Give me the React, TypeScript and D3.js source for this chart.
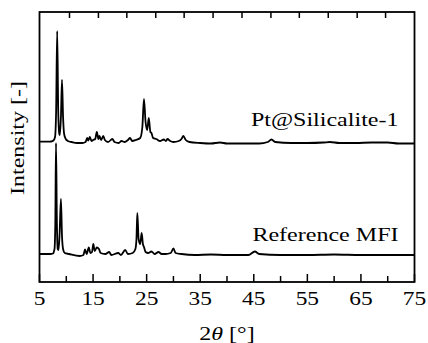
import React, { useRef, useEffect } from 'react';
import * as d3 from 'd3';

// 2theta [deg], intensity above each trace's own baseline (a.u.)
const ptSilicalite: [number, number][] = [
  [5, 0.3], [6.5, 0.3], [7.2, 0.5], [7.6, 1.5], [7.9, 5], [8.1, 30], [8.3, 111], [8.5, 30], [8.7, 8],
  [8.8, 7], [9.0, 25], [9.2, 62], [9.4, 25], [9.6, 8], [9.9, 3], [10.3, 1], [11, 0], [12, -1], [13, -1],
  [13.6, 0], [13.9, 4], [14.1, 1.5], [14.4, 5], [14.7, 1], [15.0, 2], [15.4, 3], [15.7, 10], [16.0, 3],
  [16.2, 6], [16.5, 2], [16.9, 6], [17.2, 2], [17.8, 0], [18.6, 3], [19.0, 0], [19.8, -1], [20.3, 1],
  [20.9, 0], [21.5, 2], [21.9, 4], [22.3, 1], [23.0, 2], [23.8, 4], [24.2, 15], [24.5, 43], [24.8, 20],
  [25.1, 12], [25.4, 24], [25.7, 10], [25.9, 9], [26.2, 4], [26.8, 3], [27.5, 1], [28.2, 2.5], [28.6, 1],
  [28.9, 3], [29.4, 1], [30.0, 0], [31.0, 1], [31.5, 3], [31.85, 6], [32.3, 2], [33, 0], [35, -1],
  [37, -1.5], [38.7, -0.5], [40, -1.5], [43, -1.5], [46, -1.5], [47.6, 0], [48.3, 2.5], [49, 0],
  [52, -1], [55, -1], [58, -0.5], [59.2, 0], [61, -1], [64, -1], [67, -0.5], [70, -0.5], [72, -1.5],
  [75, -1.5],
];

const referenceMFI: [number, number][] = [
  [5, 0], [7.0, 0], [7.5, 0.5], [7.8, 5], [7.95, 30], [8.08, 111], [8.25, 30], [8.4, 5], [8.55, 4],
  [8.75, 20], [9.0, 55], [9.2, 18], [9.4, 5], [9.7, 1], [10.5, 0], [12.5, -2], [13.2, -1], [13.5, 4.5],
  [13.8, 0], [14.2, 6.5], [14.5, 1], [14.8, 2], [15.05, 10], [15.3, 3], [15.7, 6.5], [16.1, 5],
  [16.4, 1], [17.3, 0], [18.0, 2], [18.4, -1], [19.7, 1], [20.2, -1], [21.0, 4], [21.5, 0], [22.4, 1],
  [22.9, 5], [23.1, 15], [23.26, 41], [23.5, 15], [23.8, 10], [24.07, 21], [24.3, 10], [24.5, 7],
  [24.8, 2], [25.3, 1], [25.9, 2.5], [26.5, 0], [27.2, 2], [27.8, 0], [28.5, 0], [29.5, 1], [30.0, 5.5],
  [30.4, 1], [31.5, 0], [34, -1], [37, -0.5], [40, -1], [44, -1], [45.2, 2.5], [46, 0], [50, -1],
  [55, -1], [60, -0.5], [65, -1], [70, -1], [75, -1],
];

const traceLabels = ['Pt@Silicalite-1', 'Reference MFI'];
const traceOffsets = [140, 28];
const majorTicks = [5, 15, 25, 35, 45, 55, 65, 75];
const minorTicks = [10, 20, 30, 40, 50, 60, 70];
const topTicks = [10.6, 16.0, 21.3, 26.7, 32.0, 37.4, 42.8, 48.2, 53.5, 58.9, 64.3, 69.6];

const FONT = '"Liberation Serif", "Times New Roman", serif';
const SX = 1.3; // glyphs in the original are drawn wide

const XrdChart: React.FC<{ width?: number; height?: number }> = ({ width = 428, height = 343 }) => {
  const svgRef = useRef<SVGSVGElement>(null);

  useEffect(() => {
    if (!svgRef.current) return;
    const svg = d3.select(svgRef.current);
    svg.selectAll('*').remove();

    const left = 39.5, right = 414.5, top = 12, bottom = 282;

    const x = d3.scaleLinear().domain([5, 75]).range([left, right]);
    const y = d3.scaleLinear().domain([0, 270]).range([bottom, top]);

    // traces
    const series = [ptSilicalite, referenceMFI];
    series.forEach((data, i) => {
      const line = d3.line<[number, number]>()
        .x(d => x(d[0]))
        .y(d => y(d[1] + traceOffsets[i]))
        .curve(d3.curveMonotoneX);
      svg.append('path')
        .datum(data)
        .attr('d', line)
        .attr('fill', 'none')
        .attr('stroke', '#000')
        .attr('stroke-width', 1.8)
        .attr('stroke-linejoin', 'round');
    });

    // frame
    svg.append('rect')
      .attr('x', left).attr('y', top)
      .attr('width', right - left).attr('height', bottom - top)
      .attr('fill', 'none').attr('stroke', '#000').attr('stroke-width', 1.8);

    // bottom ticks (inward)
    svg.append('g').selectAll('line.major').data(majorTicks).enter().append('line')
      .attr('x1', d => x(d)).attr('x2', d => x(d))
      .attr('y1', bottom).attr('y2', bottom - 8)
      .attr('stroke', '#000').attr('stroke-width', 1.5);
    svg.append('g').selectAll('line.minor').data(minorTicks).enter().append('line')
      .attr('x1', d => x(d)).attr('x2', d => x(d))
      .attr('y1', bottom).attr('y2', bottom - 6)
      .attr('stroke', '#000').attr('stroke-width', 1.5);
    // top ticks
    svg.append('g').selectAll('line.top').data(topTicks).enter().append('line')
      .attr('x1', d => x(d)).attr('x2', d => x(d))
      .attr('y1', top).attr('y2', top + 6)
      .attr('stroke', '#000').attr('stroke-width', 1.5);

    // tick labels
    svg.append('g').selectAll('text').data(majorTicks).enter().append('text')
      .attr('transform', d => `translate(${x(d)},305) scale(${SX},1)`)
      .attr('text-anchor', 'middle')
      .attr('font-family', FONT).attr('font-size', 18)
      .text(d => d);

    // trace labels
    traceLabels.forEach((label, i) => {
      svg.append('text')
        .attr('transform', `translate(398.5,${i === 0 ? 125.5 : 241}) scale(${SX},1)`)
        .attr('text-anchor', 'end')
        .attr('font-family', FONT).attr('font-size', 18.5)
        .text(label);
    });

    // x axis title
    const xt = svg.append('text')
      .attr('transform', `translate(${(left + right) / 2},340) scale(${SX},1)`)
      .attr('text-anchor', 'middle')
      .attr('font-family', FONT).attr('font-size', 18.5);
    xt.append('tspan').text('2');
    xt.append('tspan').attr('font-style', 'italic').text('θ');
    xt.append('tspan').text(' [°]');

    // y axis title
    svg.append('text')
      .attr('transform', `translate(24,138) rotate(-90) scale(${SX},1)`)
      .attr('text-anchor', 'middle')
      .attr('font-family', FONT).attr('font-size', 18.5)
      .text('Intensity [-]');
  }, [width, height]);

  return (
    <svg ref={svgRef} width={width} height={height}
      style={{ position: 'absolute', left: 0, top: 0, background: '#fff' }} />
  );
};

export default function App() {
  return <XrdChart />;
}
